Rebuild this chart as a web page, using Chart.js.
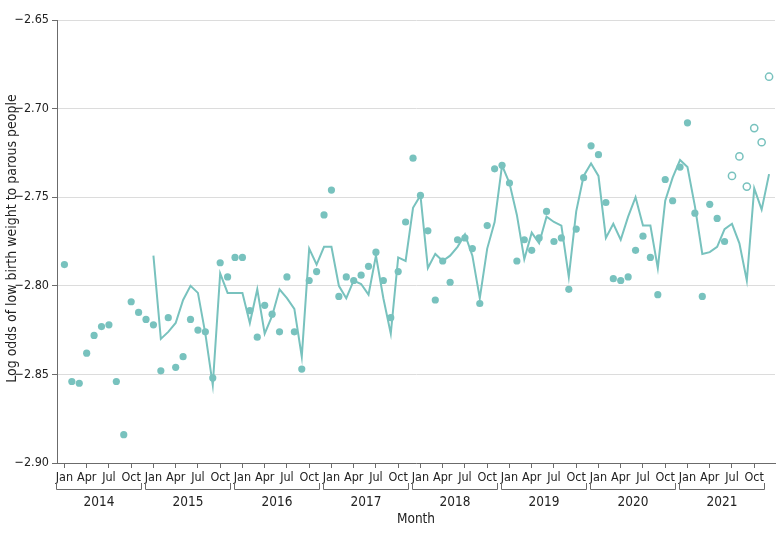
<!DOCTYPE html>
<html>
<head>
<meta charset="utf-8">
<script src="https://cdn.jsdelivr.net/npm/chart.js@4/dist/chart.umd.min.js"></script>
<style>
  html, body { margin: 0; padding: 0; background: #fff; }
  #wrap { width: 783px; height: 541px; }
</style>
</head>
<body>
<div id="wrap"><canvas id="chart" width="783" height="541"></canvas></div>
<script>
/* ── Data (Jan 2014 – Dec 2021, one value per month) ───── */
const YEARS        = ["2014", "2015", "2016", "2017", "2018", "2019", "2020", "2021"];
const MONTH_TICKS  = ["Jan", "Apr", "Jul", "Oct"];
const OPEN_FROM    = 90; // Jul 2021 on: open circles

const observed = [
  -2.788, -2.854, -2.855, -2.838, -2.828, -2.823, -2.822, -2.854, -2.884, -2.809, -2.815, -2.819,
  -2.822, -2.848, -2.818, -2.846, -2.840, -2.819, -2.825, -2.826, -2.852, -2.787, -2.795, -2.784,
  -2.784, -2.814, -2.829, -2.811, -2.816, -2.826, -2.795, -2.826, -2.847, -2.797, -2.792, -2.760,
  -2.746, -2.806, -2.795, -2.797, -2.794, -2.789, -2.781, -2.797, -2.818, -2.792, -2.764, -2.728,
  -2.749, -2.769, -2.808, -2.786, -2.798, -2.774, -2.773, -2.779, -2.810, -2.766, -2.734, -2.732,
  -2.742, -2.786, -2.774, -2.780, -2.773, -2.758, -2.775, -2.773, -2.802, -2.768, -2.739, -2.721,
  -2.726, -2.753, -2.796, -2.797, -2.795, -2.780, -2.772, -2.784, -2.805, -2.740, -2.752, -2.733,
  -2.708, -2.759, -2.806, -2.754, -2.762, -2.775, -2.738, -2.727, -2.744, -2.711, -2.719, -2.682,
];

const fitted = [
  null, null, null, null, null, null, null, null, null, null, null, null,
  -2.783, -2.830, -2.826, -2.821, -2.808, -2.800, -2.804, -2.827, -2.856, -2.793, -2.804, -2.804,
  -2.804, -2.821, -2.802, -2.827, -2.817, -2.802, -2.807, -2.813, -2.840, -2.779, -2.788, -2.778,
  -2.778, -2.800, -2.807, -2.797, -2.799, -2.805, -2.783, -2.807, -2.827, -2.784, -2.786, -2.756,
  -2.749, -2.790, -2.782, -2.786, -2.783, -2.778, -2.771, -2.783, -2.807, -2.779, -2.764, -2.732,
  -2.742, -2.760, -2.785, -2.770, -2.776, -2.761, -2.764, -2.766, -2.795, -2.758, -2.738, -2.731,
  -2.738, -2.773, -2.765, -2.774, -2.761, -2.750, -2.766, -2.766, -2.790, -2.752, -2.739, -2.729,
  -2.733, -2.755, -2.782, -2.781, -2.778, -2.768, -2.765, -2.776, -2.797, -2.745, -2.757, -2.737,
];

/* ── Style ─────────────────────────────────────────────── */
const TEAL  = "#78c2be";
const INK   = "#222222";
const AXIS  = "#6b6b6b";
const FONT  = "'Liberation Sans Narrow', 'DejaVu Sans Condensed', 'Roboto', sans-serif";

const obsPoints = observed.map((v, i) => ({ x: i, y: v }));
const fitPoints = fitted.map((v, i) => ({ x: i, y: v }));

/* ── Year brackets, axis titles ────────────────────────── */
const decorations = {
  id: "decorations",
  afterDraw(chart) {
    const { ctx } = chart;
    const xs = chart.scales.x;
    const area = chart.chartArea;
    ctx.save();

    // year brackets
    const yLine = 489, yTop = 483;
    ctx.strokeStyle = AXIS;
    ctx.lineWidth = 1;
    ctx.fillStyle = INK;
    ctx.font = "13.5px " + FONT;
    ctx.textAlign = "center";
    ctx.textBaseline = "middle";
    YEARS.forEach((yr, k) => {
      const x0 = Math.round(xs.getPixelForValue(12 * k - 1.15)) + 0.5;
      const x1 = Math.round(xs.getPixelForValue(12 * k + 10.35)) + 0.5;
      ctx.beginPath();
      ctx.moveTo(x0, yTop);
      ctx.lineTo(x0, yLine + 0.5);
      ctx.lineTo(x1, yLine + 0.5);
      ctx.lineTo(x1, yTop);
      ctx.stroke();
      ctx.fillText(yr, (x0 + x1) / 2, 502);
    });

    // x title
    ctx.fillText("Month", (area.left + area.right) / 2, 519);

    // y title
    ctx.font = "14px " + FONT;
    ctx.translate(12, (area.top + area.bottom) / 2 - 3);
    ctx.rotate(-Math.PI / 2);
    ctx.fillText("Log odds of low birth weight to parous people", 0, 0);
    ctx.restore();
  },
};

new Chart(document.getElementById("chart"), {
  type: "scatter",
  data: {
    datasets: [
      {
        type: "line",
        data: fitPoints,
        borderColor: TEAL,
        borderWidth: 2,
        pointRadius: 0,
        tension: 0,
        spanGaps: false,
        order: 2,
      },
      {
        data: obsPoints,
        pointRadius: 3.6,
        pointBorderWidth: obsPoints.map((p, i) => (i >= OPEN_FROM ? 1.5 : 0)),
        pointBorderColor: TEAL,
        pointBackgroundColor: obsPoints.map((p, i) => (i >= OPEN_FROM ? "#ffffff" : TEAL)),
        order: 1,
      },
    ],
  },
  options: {
    responsive: false,
    animation: false,
    layout: { padding: { left: 0, top: 20, right: 8, bottom: 0 } },
    plugins: { legend: { display: false }, tooltip: { enabled: false } },
    scales: {
      x: {
        type: "linear",
        min: -1,
        max: 95.8,
        afterFit: s => { s.height = 78; },
        afterBuildTicks: s => {
          const t = [];
          for (let v = 0; v < 96; v += 3) t.push({ value: v });
          s.ticks = t;
        },
        ticks: {
          autoSkip: false,
          maxRotation: 0,
          padding: 2,
          color: INK,
          font: { family: FONT, size: 12.5 },
          callback: v => MONTH_TICKS[(v % 12) / 3],
        },
        grid: { drawOnChartArea: false, drawTicks: true, tickLength: 5, tickColor: AXIS },
        border: { color: AXIS, width: 1 },
      },
      y: {
        min: -2.90,
        max: -2.65,
        afterFit: s => { s.width = 57; },
        ticks: {
          stepSize: 0.05,
          padding: 3,
          color: INK,
          font: { family: FONT, size: 12.5 },
          callback: v => (v < 0 ? "\u2212" : "") + Math.abs(v).toFixed(2),
        },
        grid: { color: "#dcdcdc", drawTicks: true, tickLength: 5, tickColor: AXIS },
        border: { color: AXIS, width: 1 },
      },
    },
  },
  plugins: [decorations],
});
</script>
</body>
</html>
